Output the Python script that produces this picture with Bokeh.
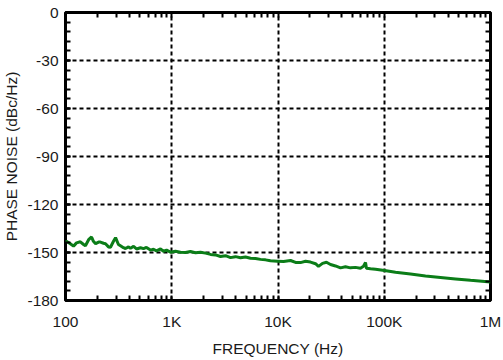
from bokeh.plotting import figure
from bokeh.models import Range1d, FixedTicker, LinearAxis, LogAxis
from bokeh.embed import file_html
from bokeh.resources import INLINE

# Data
freq_hz = [100, 102, 111, 119, 127, 138, 148, 154, 165, 176, 183, 192, 205, 213, 228, 238,
           254, 265, 283, 296, 315, 329, 351, 367, 392, 409, 437, 466, 508, 542, 578, 631,
           673, 718, 784, 836, 893, 973, 1084, 1208, 1346, 1501, 1673, 1866, 2079, 2317,
           2582, 2877, 3206, 3573, 3981, 4436, 4943, 5508, 6138, 6840, 7622, 8494, 9886,
           11270, 13120, 14630, 16290, 18160, 20230, 22550, 24050, 26240, 28590, 31190,
           34750, 38730, 43160, 48100, 53600, 59730, 63770, 66640, 68000, 74270, 82760,
           100500, 127600, 176600, 244500, 338300, 468800, 648600, 1000000]
noise_dbc = [-143.5, -143.0, -144.5, -146.0, -144.0, -143.3, -145.0, -145.8, -142.0, -140.3,
             -143.0, -144.5, -143.5, -143.5, -144.2, -144.5, -146.5, -146.7, -143.0, -140.7,
             -145.0, -145.8, -147.0, -147.5, -146.5, -147.3, -146.2, -147.8, -147.0, -147.6,
             -146.8, -148.5, -148.0, -149.0, -147.8, -149.2, -148.5, -149.8, -149.2, -149.8,
             -150.0, -149.4, -150.2, -149.8, -150.4, -151.2, -151.5, -152.5, -152.0, -153.2,
             -152.6, -153.3, -152.8, -153.6, -153.7, -154.3, -154.6, -155.2, -155.4, -155.6,
             -155.0, -156.2, -156.3, -155.5, -156.0, -157.0, -158.7, -156.8, -156.1, -157.5,
             -158.4, -159.6, -158.9, -159.6, -159.3, -159.8, -158.6, -156.2, -159.8, -160.2,
             -160.5, -161.2, -162.3, -163.5, -164.7, -165.6, -166.5, -167.4, -168.5]

x_ticks = [100, 1000, 10000, 100000, 1000000]
x_tick_labels = ["100", "1K", "10K", "100K", "1M"]
x_minor = [m * d for d in [100, 1000, 10000, 100000] for m in range(2, 10)]
x_grid = [1000, 10000, 100000]
y_ticks = [-180, -150, -120, -90, -60, -30, 0]
y_tick_labels = ["-180", "-150", "-120", "-90", "-60", "-30", "0"]
y_minor = list(range(-180, 1, 6))
y_grid = [-150, -120, -90, -60, -30]

FONT = "Liberation Sans"
TXT = "#1a1a1a"
FS = "15.5px"

p = figure(width=503, height=360, x_axis_type="log", output_backend="svg",
           toolbar_location=None, x_range=Range1d(100, 1000000), y_range=Range1d(-180, 0),
           min_border_left=65, min_border_right=13, min_border_top=12, min_border_bottom=60)
p.background_fill_color = "white"
p.border_fill_color = "white"
p.outline_line_color = "black"
p.outline_line_width = 3
p.outline_line_alpha = 1

p.line(freq_hz, noise_dbc, line_color="#0b7d18", line_width=3)

def style_axis(ax, labels=True):
    ax.axis_line_color = None
    ax.major_tick_in = 5
    ax.major_tick_out = 0
    ax.minor_tick_in = 5
    ax.minor_tick_out = 0
    ax.major_tick_line_color = "black"
    ax.minor_tick_line_color = "black"
    ax.major_tick_line_width = 2
    ax.minor_tick_line_width = 2
    if labels:
        ax.major_label_text_font = FONT
        ax.major_label_text_font_size = FS
        ax.major_label_text_color = TXT
        ax.axis_label_text_font = FONT
        ax.axis_label_text_font_size = FS
        ax.axis_label_text_font_style = "normal"
        ax.axis_label_text_color = TXT
    else:
        ax.major_label_text_font_size = "1px"
        ax.major_label_text_color = None
        ax.major_label_standoff = 0

xa = p.xaxis[0]
xa.ticker = FixedTicker(ticks=x_ticks, minor_ticks=x_minor)
xa.major_label_overrides = {t: l for t, l in zip(x_ticks, x_tick_labels)}
xa.axis_label = "FREQUENCY (Hz)"
style_axis(xa)
xa.major_label_standoff = 12
xa.axis_label_standoff = 7

ya = p.yaxis[0]
ya.ticker = FixedTicker(ticks=y_ticks, minor_ticks=y_minor)
ya.major_label_overrides = {t: l for t, l in zip(y_ticks, y_tick_labels)}
ya.axis_label = "PHASE NOISE (dBc/Hz)"
style_axis(ya)
ya.major_label_standoff = 7
ya.axis_label_standoff = 4

top = LogAxis(ticker=FixedTicker(ticks=x_ticks, minor_ticks=x_minor))
style_axis(top, labels=False)
p.add_layout(top, "above")
right = LinearAxis(ticker=FixedTicker(ticks=y_ticks, minor_ticks=y_minor))
style_axis(right, labels=False)
p.add_layout(right, "right")

p.xgrid.ticker = FixedTicker(ticks=x_grid)
p.ygrid.ticker = FixedTicker(ticks=y_grid)
for g in (p.xgrid[0], p.ygrid[0]):
    g.grid_line_color = "black"
    g.grid_line_width = 2
    g.grid_line_dash = "4 3"
    g.grid_line_alpha = 1

open("out.html", "w").write(file_html(p, INLINE))
